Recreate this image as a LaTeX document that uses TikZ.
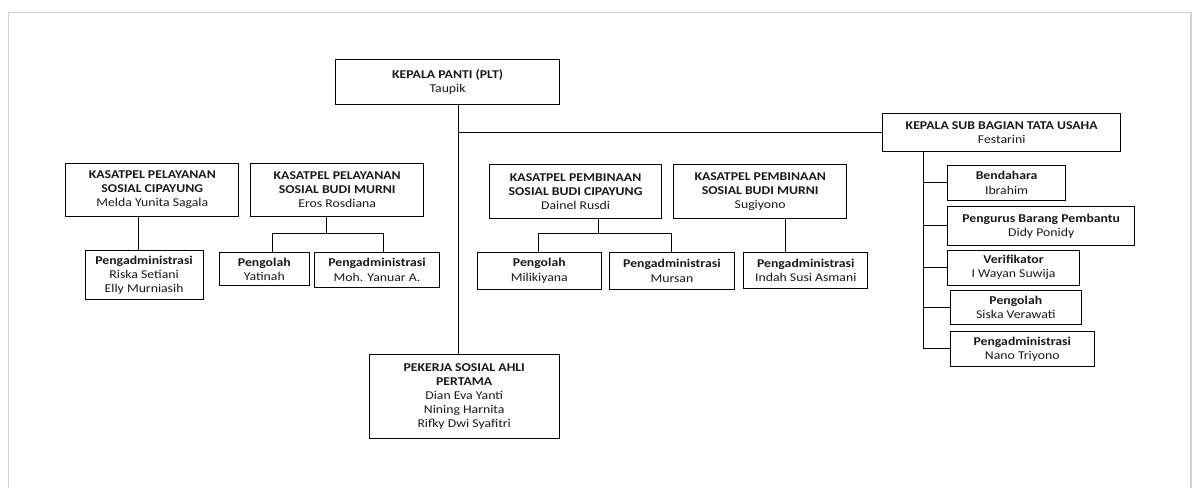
\documentclass[tikz,border=0pt]{standalone}
\usepackage{fontspec}
\setmainfont{Carlito}[FakeStretch=1.15]
\begin{document}
\begin{tikzpicture}[x=1bp,y=-1bp,
  box/.style={draw=black,line width=1bp,inner sep=0pt,align=center,
    font=\fontsize{12}{14.2}\selectfont,text=black!90},
  conn/.style={draw=black,line width=1bp},
  frame/.style={draw=black!18,line width=1.5bp}]
\useasboundingbox (0,0) rectangle (1193,488);
\draw[frame] (8.4,488) -- (8.4,12.7) -- (1191,12.7) -- (1191,488);
% boxes
\node[box,minimum width=224.7bp,minimum height=45bp] (kp) at (447.6,81.8) {\textbf{KEPALA PANTI (PLT)}\\Taupik};
\node[box,minimum width=238.3bp,minimum height=38bp] (ksub) at (1001.7,132.3) {\textbf{KEPALA SUB BAGIAN TATA USAHA}\\Festarini};
\node[box,minimum width=173bp,minimum height=53.7bp] (k1) at (152.3,189.9) {\textbf{KASATPEL PELAYANAN}\\\textbf{SOSIAL CIPAYUNG}\\Melda Yunita Sagala};
\node[box,minimum width=172.9bp,minimum height=53.7bp] (k2) at (337.2,189.9) {\textbf{KASATPEL PELAYANAN}\\\textbf{SOSIAL BUDI MURNI}\\Eros Rosdiana};
\node[box,minimum width=172.1bp,minimum height=53.6bp] (k3) at (575.6,191.5) {\textbf{KASATPEL PEMBINAAN}\\\textbf{SOSIAL BUDI CIPAYUNG}\\Dainel Rusdi};
\node[box,minimum width=172.9bp,minimum height=53.6bp] (k4) at (760.2,191.5) {\textbf{KASATPEL PEMBINAAN}\\\textbf{SOSIAL BUDI MURNI}\\Sugiyono};
\node[box,minimum width=118.2bp,minimum height=49bp] (a1) at (144.1,275.2) {\textbf{Pengadministrasi}\\Riska Setiani\\Elly Murniasih};
\node[box,minimum width=89.9bp,minimum height=33.4bp] (b1) at (264.3,269) {\textbf{Pengolah}\\Yatinah};
\node[box,minimum width=124.7bp,minimum height=35bp] (b2) at (377,269.8) {\textbf{Pengadministrasi}\\Moh. Yanuar A.};
\node[box,minimum width=123.4bp,minimum height=37bp] (c1) at (539.3,270.8) {\textbf{Pengolah}\\Milikiyana};
\node[box,minimum width=124.8bp,minimum height=37bp] (c2) at (671.9,270.8) {\textbf{Pengadministrasi}\\Mursan};
\node[box,minimum width=124.1bp,minimum height=36bp] (d1) at (805.8,270.3) {\textbf{Pengadministrasi}\\Indah Susi Asmani};
\node[box,minimum width=189.8bp,minimum height=84.4bp] (pk) at (464.2,396.5) {\textbf{PEKERJA SOSIAL AHLI}\\\textbf{PERTAMA}\\Dian Eva Yanti\\Nining Harnita\\Rifky Dwi Syafitri};
\node[box,minimum width=117.3bp,minimum height=35bp] (t1) at (1006.6,182.8) {\textbf{Bendahara}\\Ibrahim};
\node[box,minimum width=186.5bp,minimum height=38.6bp] (t2) at (1041.2,226) {\textbf{Pengurus Barang Pembantu}\\Didy Ponidy};
\node[box,minimum width=131.3bp,minimum height=34.7bp] (t3) at (1013.6,267.7) {\textbf{Verifikator}\\I Wayan Suwija};
\node[box,minimum width=131.2bp,minimum height=34bp] (t4) at (1015.8,307.3) {\textbf{Pengolah}\\Siska Verawati};
\node[box,minimum width=144.1bp,minimum height=35.4bp] (t5) at (1022.3,349) {\textbf{Pengadministrasi}\\Nano Triyono};
% junction coordinates
\coordinate (tr) at (458.5,132.3);
\coordinate (j1) at (138.9,0);
\coordinate (j2) at (326,234);
\coordinate (j2l) at (272.1,234);
\coordinate (j2r) at (383.9,234);
\coordinate (j3) at (598.2,234);
\coordinate (j3l) at (538.8,234);
\coordinate (j3r) at (671.9,234);
\coordinate (j4) at (785.3,0);
\coordinate (tv) at (923,0);
% connectors
\draw[conn] (tr |- kp.south) -- (tr |- pk.north);
\draw[conn] (tr) -- (ksub.west);
\draw[conn] (j1 |- k1.south) -- (j1 |- a1.north);
\draw[conn] (j2 |- k2.south) -- (j2);
\draw[conn] (j2l |- b1.north) -- (j2l) -- (j2r) -- (j2r |- b2.north);
\draw[conn] (j3 |- k3.south) -- (j3);
\draw[conn] (j3l |- c1.north) -- (j3l) -- (j3r) -- (j3r |- c2.north);
\draw[conn] (j4 |- k4.south) -- (j4 |- d1.north);
\draw[conn] (tv |- ksub.south) -- (tv |- t5.west) -- (t5.west);
\draw[conn] (tv |- t1.west) -- (t1.west);
\draw[conn] (tv |- t2.west) -- (t2.west);
\draw[conn] (tv |- t3.west) -- (t3.west);
\draw[conn] (tv |- t4.west) -- (t4.west);
\end{tikzpicture}
\end{document}
